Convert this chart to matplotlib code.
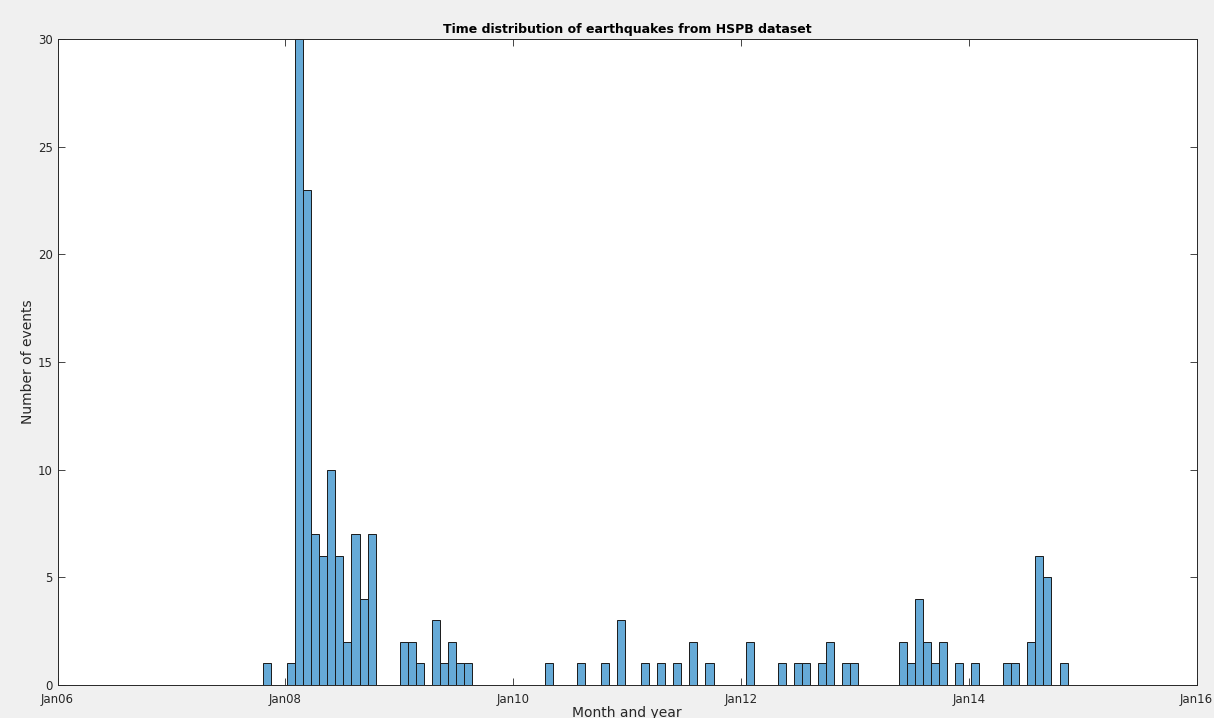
import datetime as dt
import matplotlib
matplotlib.use("Agg")
import matplotlib.pyplot as plt
import matplotlib.dates as mdates
import numpy as np

# histogram bins (index from first edge, event count)
BIN_START = dt.datetime(2008, 1, 7)
BIN_DAYS = 25.8
bin_index = [-3, 0, 1, 2, 3, 4, 5, 6, 7, 8, 9, 10,
             14, 15, 16, 18, 19, 20, 21, 22,
             32, 36, 39, 41, 44, 46, 48, 50, 52, 57,
             61, 63, 64, 66, 67, 69, 70,
             76, 77, 78, 79, 80, 81, 83, 85,
             89, 90, 92, 93, 94, 96]
counts = [1, 1, 30, 23, 7, 6, 10, 6, 2, 7, 4, 7,
          2, 2, 1, 3, 1, 2, 1, 1,
          1, 1, 1, 3, 1, 1, 1, 2, 1, 2,
          1, 1, 1, 1, 2, 1, 1,
          2, 1, 4, 2, 1, 2, 1, 1,
          1, 1, 2, 6, 5, 1]

x_ticks = [dt.datetime(y, 1, 1) for y in (2006, 2008, 2010, 2012, 2014, 2016)]
y_ticks = [0, 5, 10, 15, 20, 25, 30]

fig = plt.figure(figsize=(12.14, 7.18), dpi=100, facecolor="#f0f0f0")
ax = fig.add_axes([0.0474, 0.046, 0.9382, 0.8997])

lefts = [BIN_START + dt.timedelta(days=BIN_DAYS * k) for k in bin_index]
ax.bar(lefts, counts, width=BIN_DAYS, align="edge",
       color="#66aad7", edgecolor="#1a1a1a", linewidth=0.7)

ax.set_xlim(x_ticks[0], x_ticks[-1])
ax.set_ylim(0, 30)
ax.set_xticks(x_ticks)
ax.xaxis.set_major_formatter(mdates.DateFormatter("%b%y"))
ax.set_yticks(y_ticks)

ax.tick_params(direction="in", top=True, right=True, length=5, width=0.6,
               colors="#262626", labelsize=8.5)
ax.tick_params(axis="x", pad=6)
for s in ax.spines.values():
    s.set_color("#262626")
    s.set_linewidth(0.7)

ax.set_title("Time distribution of earthquakes from HSPB dataset",
             fontsize=9, fontweight="bold", pad=4)
ax.set_xlabel("Month and year", fontsize=10, color="#262626", labelpad=0)
ax.set_ylabel("Number of events", fontsize=10, color="#262626", labelpad=2)

fig.savefig("out.png", dpi=100, facecolor=fig.get_facecolor())
